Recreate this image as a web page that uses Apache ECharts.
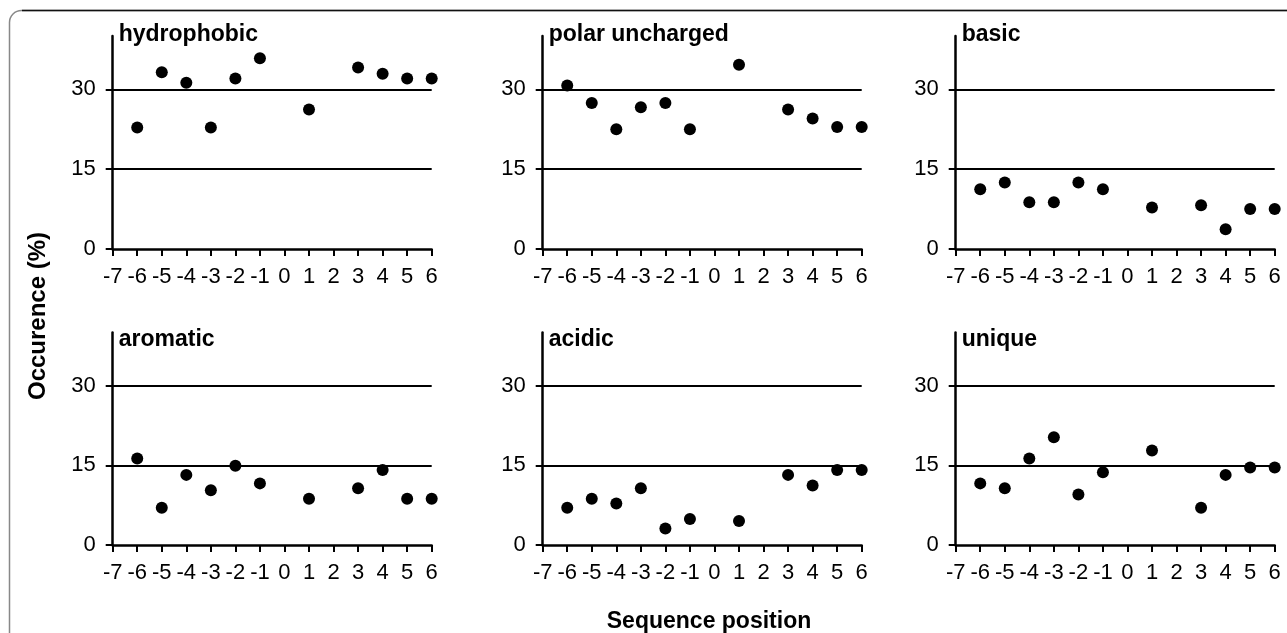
<!DOCTYPE html>
<html>
<head>
<meta charset="utf-8">
<script src="https://cdn.jsdelivr.net/npm/echarts@6/dist/echarts.min.js"></script>
<style>
html, body { margin: 0; padding: 0; background: #fff; }
#chart { width: 1287px; height: 633px; }
</style>
</head>
<body>
<div id="chart"></div>
<script>
// sequence positions that have a value (0 and 2 are empty)
var positions = [-6, -5, -4, -3, -2, -1, 1, 3, 4, 5, 6];

var hydrophobic    = [22.8, 33.2, 31.2, 22.8, 32.0, 35.8, 26.2, 34.1, 32.9, 32.0, 32.0];
var polarUncharged = [30.7, 27.4, 22.5, 26.6, 27.4, 22.5, 34.6, 26.2, 24.5, 22.9, 22.9];
var basic          = [11.2, 12.5, 8.8, 8.8, 12.5, 11.2, 7.8, 8.2, 3.7, 7.5, 7.5];
var aromatic       = [16.3, 7.0, 13.2, 10.3, 14.9, 11.6, 8.7, 10.7, 14.1, 8.7, 8.7];
var acidic         = [7.0, 8.7, 7.8, 10.7, 3.1, 4.9, 4.5, 13.2, 11.2, 14.1, 14.1];
var unique         = [11.6, 10.7, 16.3, 20.3, 9.5, 13.7, 17.8, 7.0, 13.2, 14.6, 14.6];

var panelNames = ['hydrophobic', 'polar uncharged', 'basic', 'aromatic', 'acidic', 'unique'];
var panelData = [hydrophobic, polarUncharged, basic, aromatic, acidic, unique];

var yTicks = [0, 15, 30];
var yMax = 40;
var xMin = -7, xMax = 6;

var chart = echarts.init(document.getElementById('chart'));

var font = '"Liberation Sans", Arial, sans-serif';
var colLeft = [112.7, 542.7, 955.7];
var colWidth = 319;
var rowTop = [36, 332.5];
var rowHeight = [213, 212.5];

var grids = [], xAxes = [], yAxes = [], series = [], titles = [];

for (var i = 0; i < 6; i++) {
    var c = i % 3, r = Math.floor(i / 3);
    grids.push({
        left: colLeft[c], top: rowTop[r], width: colWidth, height: rowHeight[r]
    });
    xAxes.push({
        gridIndex: i, type: 'value', min: xMin, max: xMax, interval: 1,
        axisLine: { onZero: false, lineStyle: { color: '#000', width: 2.5 } },
        axisTick: { show: true, length: 7, lineStyle: { color: '#000', width: 2 } },
        axisLabel: { color: '#000', fontFamily: font, fontSize: 22, margin: 17 },
        splitLine: { show: false }
    });
    yAxes.push({
        gridIndex: i, type: 'value', min: 0, max: yMax, interval: 15,
        axisLine: { show: true, onZero: false, lineStyle: { color: '#000', width: 2.5 } },
        axisTick: { show: true, length: 7, customValues: yTicks, lineStyle: { color: '#000', width: 2 } },
        axisLabel: { color: '#000', fontFamily: font, fontSize: 22, margin: 17, customValues: yTicks },
        splitLine: { show: false }
    });
    var pts = [];
    for (var j = 0; j < positions.length; j++) {
        pts.push([positions[j], panelData[i][j]]);
    }
    series.push({
        type: 'scatter', xAxisIndex: i, yAxisIndex: i,
        data: pts, symbolSize: 12,
        itemStyle: { color: '#000', opacity: 1 },
        markLine: {
            silent: true, symbol: ['none', 'none'],
            label: { show: false },
            lineStyle: { color: '#000', type: 'solid', width: 2 },
            data: yTicks.filter(function (v) { return v > 0; }).map(function (v) { return { yAxis: v }; })
        }
    });
    titles.push({
        text: panelNames[i],
        left: colLeft[c] + 6, top: r == 0 ? 23 : 328,
        padding: 0,
        textStyle: { fontFamily: font, fontSize: 23, fontWeight: 'bold', color: '#000' }
    });
}

var option = {
    animation: false,
    backgroundColor: '#fff',
    title: titles,
    grid: grids,
    xAxis: xAxes,
    yAxis: yAxes,
    series: series,
    graphic: [
        {
            type: 'rect',
            shape: { x: 9.5, y: 10.5, width: 1400, height: 800, r: 12 },
            style: { fill: 'none', stroke: '#888', lineWidth: 1.5 }
        },
        {
            type: 'line',
            shape: { x1: 22, y1: 10.5, x2: 1287, y2: 10.5 },
            style: { stroke: '#111', lineWidth: 1.5 }
        },
        {
            type: 'text', x: 38, y: 316, rotation: Math.PI / 2,
            style: {
                text: 'Occurence (%)', fontFamily: font, fontSize: 24, fontWeight: 'bold',
                fill: '#000', align: 'center', verticalAlign: 'middle'
            }
        },
        {
            type: 'text', x: 709, y: 622,
            style: {
                text: 'Sequence position', fontFamily: font, fontSize: 23, fontWeight: 'bold',
                fill: '#000', align: 'center', verticalAlign: 'middle'
            }
        }
    ]
};

chart.setOption(option);
</script>
</body>
</html>
